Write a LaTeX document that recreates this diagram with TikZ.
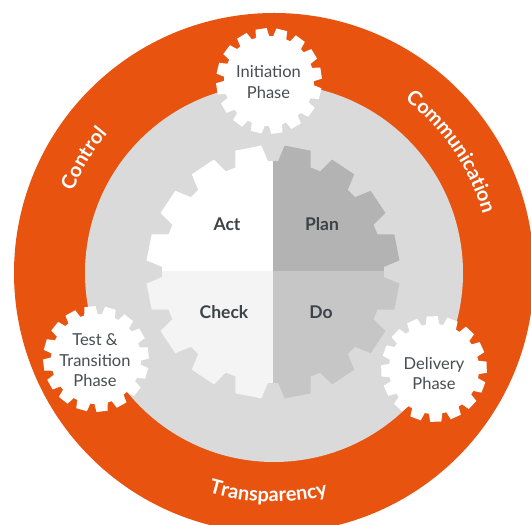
\documentclass[tikz,border=0pt]{standalone}
\usepackage{fontspec}
\setmainfont{Lato}
\usetikzlibrary{decorations.text}
\definecolor{ringorange}{RGB}{232,84,16}
\definecolor{bggray}{RGB}{218,218,218}
\definecolor{plangray}{RGB}{179,179,179}
\definecolor{dogray}{RGB}{198,198,198}
\definecolor{checkgray}{RGB}{244,244,244}
\definecolor{darktext}{RGB}{60,66,70}
\definecolor{phasetext}{RGB}{72,78,82}
% gear outline: #1 root radius, #2 tip radius, #3 half-angle at root, #4 half-angle at tip, #5 first tooth angle
\newcommand{\gearshape}[5]{%
  ({#5-#3}:#1)
  \foreach \k in {0,...,15}{
    -- ({#5+\k*22.5-#3}:#1) -- ({#5+\k*22.5-#4}:#2) -- ({#5+\k*22.5+#4}:#2) -- ({#5+\k*22.5+#3}:#1)
    arc[start angle={#5+\k*22.5+#3}, end angle={#5+(\k+1)*22.5-#3}, radius=#1]
  } -- cycle}
\tikzset{
  pdcalabel/.style={font=\fontsize{17.5}{20}\selectfont\bfseries, text=darktext, inner sep=0pt},
  phaselabel/.style={font=\fontsize{16.5}{20.5}\selectfont, text=phasetext, align=center, inner sep=0pt},
  ringtext/.style={decorate, decoration={text along path, text align=center, text={|\fontsize{20}{22}\selectfont\bfseries\color{white}|#1}}}
}
\begin{document}
\begin{tikzpicture}[x=1pt, y=1pt]
\useasboundingbox (0,0) rectangle (531,525);
\clip (0,0) rectangle (531,525);
\fill[white] (0,0) rectangle (531,525);
\coordinate (ring) at (274,252);
\coordinate (pdca) at (273,253);
\coordinate (initc) at (269,444);
\coordinate (testc) at (96,166);
\coordinate (delc) at (434,156);
% ring and background
\fill[ringorange] (ring) circle[radius=260];
\fill[bggray] (ring) circle[radius=189];
% central PDCA gear
\begin{scope}[shift={(pdca)}]
  \begin{scope}
    \clip (-140,0) rectangle (0,140);
    \fill[white] \gearshape{111}{127}{8.6}{6}{11.25};
  \end{scope}
  \begin{scope}
    \clip (0,0) rectangle (140,140);
    \fill[plangray] \gearshape{111}{127}{8.6}{6}{11.25};
  \end{scope}
  \begin{scope}
    \clip (-140,-140) rectangle (0,0);
    \fill[checkgray] \gearshape{111}{127}{8.6}{6}{11.25};
  \end{scope}
  \begin{scope}
    \clip (0,-140) rectangle (140,0);
    \fill[dogray] \gearshape{111}{127}{8.6}{6}{11.25};
  \end{scope}
\end{scope}
% phase gears
\begin{scope}[shift={(initc)}]
  \fill[white] \gearshape{45}{53}{8.6}{6}{8.5};
\end{scope}
\begin{scope}[shift={(testc)}]
  \fill[white] \gearshape{45}{53}{8.6}{6}{6.6};
\end{scope}
\begin{scope}[shift={(delc)}]
  \fill[white] \gearshape{45}{53}{8.6}{6}{2};
\end{scope}
% PDCA labels
\node[pdcalabel] (act) at (227,301) {Act};
\node[pdcalabel] (plan) at (322,301) {Plan};
\node[pdcalabel] (check) at (224,213) {Check};
\node[pdcalabel] (do) at (321,213) {Do};
% phase labels
\node[phaselabel] (init) at (268.5,443) {Initiation\\Phase};
\node[phaselabel] (test) at (95,164.5) {Test \&\\Transition\\Phase};
\node[phaselabel] (deliv) at (434,151.5) {Delivery\\Phase};
% ring texts
\path[ringtext=Control] (ring) ++(189:217) arc[start angle=189, end angle=109, radius=217];
\path[ringtext=Communication] (ring) ++(79.3:217) arc[start angle=79.3, end angle=-10.7, radius=217];
\path[ringtext=Transparency] (ring) ++(218.5:229) arc[start angle=218.5, end angle=318.5, radius=229];
\end{tikzpicture}
\end{document}
